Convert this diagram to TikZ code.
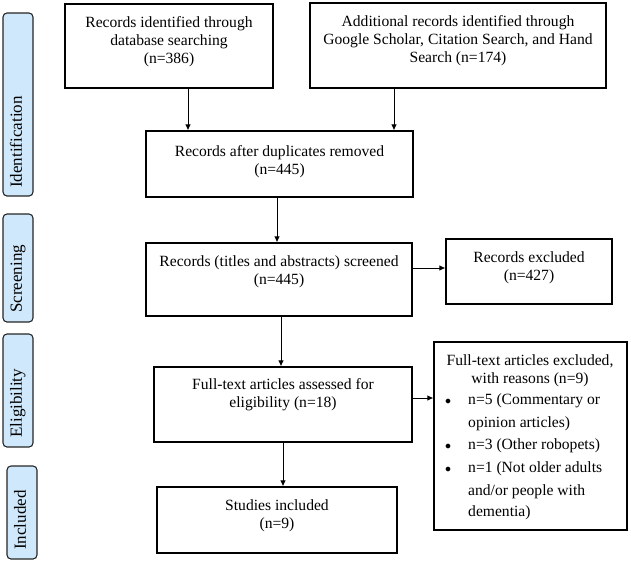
\documentclass[tikz,border=0pt]{standalone}
\usepackage{fontspec}
\setmainfont{Liberation Serif}
\usetikzlibrary{arrows.meta,calc}
\definecolor{sidefill}{HTML}{CFE8FB}
\tikzset{
  box/.style={draw=black, line width=1.1pt, rectangle, inner sep=0pt},
  side/.style={draw=black!85, line width=1.1pt, rounded corners=4pt, fill=sidefill, inner sep=0pt, minimum width=30pt},
  txt/.style={font=\fontsize{15.6}{18}\selectfont, align=center, inner sep=0pt, anchor=north},
  ltxt/.style={font=\fontsize{15.6}{18}\selectfont, inner sep=0pt, anchor=mid west},
  stxt/.style={font=\fontsize{17}{18}\selectfont, inner sep=0pt, rotate=90, anchor=mid west},
  bul/.style={font=\fontsize{12}{18}\selectfont, inner sep=0pt, anchor=mid},
  arr/.style={line width=1pt, -{Latex[length=6pt,width=5.5pt]}}
}
\begin{document}
\begin{tikzpicture}[x=1pt,y=-1pt]
\useasboundingbox (0,0) rectangle (631,566);
% side labels
\node[side, minimum height=183pt] (s1) at (18,104.5) {};
\node[stxt] (s1t) at (19.5,188) {Identification};
\node[side, minimum height=108pt] (s2) at (18,268) {};
\node[stxt] (s2t) at (19.5,313) {Screening};
\node[side, minimum height=113pt] (s3) at (18,390.5) {};
\node[stxt] (s3t) at (19.5,438) {Eligibility};
\node[side, minimum height=93pt] (s4) at (22,512.5) {};
\node[stxt] (s4t) at (23.5,550) {Included};
% boxes
\node[box, minimum width=208pt, minimum height=84pt] (A) at (169,46) {};
\node[txt] (At) at (169,16) {Records identified through\\database searching\\(n=386)};
\node[box, minimum width=296pt, minimum height=85pt] (B) at (458,45.5) {};
\node[txt] (Bt) at (458,15) {Additional records identified through\\Google Scholar, Citation Search, and Hand\\Search (n=174)};
\node[box, minimum width=267pt, minimum height=66pt] (C) at (279.5,164) {};
\node[txt] (Ct) at (279.5,145) {Records after duplicates removed\\(n=445)};
\node[box, minimum width=266pt, minimum height=73pt] (D) at (279,279.5) {};
\node[txt] (Dt) at (279,255) {Records (titles and abstracts) screened\\(n=445)};
\node[box, minimum width=166pt, minimum height=65pt] (E) at (529,271.5) {};
\node[txt] (Et) at (529,251) {Records excluded\\(n=427)};
\node[box, minimum width=258pt, minimum height=75pt] (F) at (283,404.5) {};
\node[txt] (Ft) at (283,378) {Full-text articles assessed for\\eligibility (n=18)};
\node[box, minimum width=240pt, minimum height=66pt] (G) at (277,520) {};
\node[txt] (Gt) at (277,499) {Studies included\\(n=9)};
\node[box, minimum width=193pt, minimum height=188pt] (H) at (530.5,436) {};
\node[txt] (Ht) at (530,354) {Full-text articles excluded,\\with reasons (n=9)};
\node[bul] (b1) at (448,402) {$\bullet$};
\node[ltxt] (h1) at (468,402) {n=5 (Commentary or};
\node[ltxt] (h2) at (468,425) {opinion articles)};
\node[bul] (b2) at (448,447) {$\bullet$};
\node[ltxt] (h3) at (468,447) {n=3 (Other robopets)};
\node[bul] (b3) at (448,470) {$\bullet$};
\node[ltxt] (h4) at (468,470) {n=1 (Not older adults};
\node[ltxt] (h5) at (468,493) {and/or people with};
\node[ltxt] (h6) at (468,514) {dementia)};
% connectors
\draw[arr] ([xshift=19pt]A.south) -- ([xshift=19pt]A.south |- C.north);
\draw[arr] ([xshift=-64pt]B.south) -- ([xshift=-64pt]B.south |- C.north);
\draw[arr] ([xshift=-2.5pt]C.south) -- ([xshift=-2.5pt]C.south |- D.north);
\draw[arr] ([yshift=11.5pt]D.east) -- ([yshift=11.5pt]D.east -| E.west);
\draw[arr] ([xshift=2pt]D.south) -- ([xshift=2pt]D.south |- F.north);
\draw[arr] (F.south) -- (F.south |- G.north);
\draw[arr] ([yshift=6.5pt]F.east) -- ([yshift=6.5pt]F.east -| H.west);
\end{tikzpicture}
\end{document}
